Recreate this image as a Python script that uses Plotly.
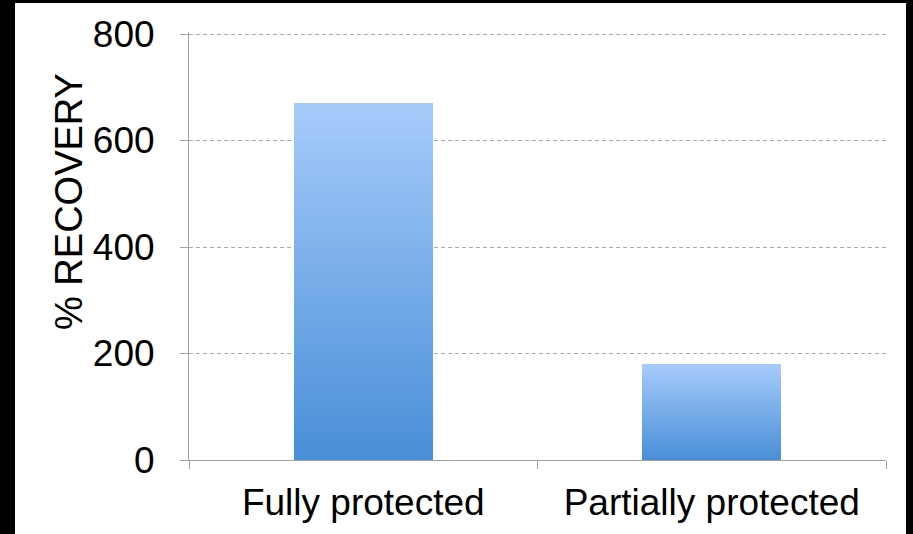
import plotly.graph_objects as go

categories = ["Fully protected", "Partially protected"]
values = [670, 180]
y_ticks = [0, 200, 400, 600, 800]
y_title = "% RECOVERY"

TOP = (166, 203, 250)
BOTTOM = (72, 142, 216)
N = 80

def mix(t):
    r = [round(TOP[i] + (BOTTOM[i] - TOP[i]) * t) for i in range(3)]
    return f"rgb({r[0]},{r[1]},{r[2]})"

xs, ys, cols = [], [], []
for cat, v in zip(categories, values):
    for k in range(N, 0, -1):
        frac = k / N
        xs.append(cat)
        ys.append(v * frac)
        cols.append(mix(1 - frac))

fig = go.Figure()
fig.add_trace(go.Bar(
    x=xs, y=ys, base=0, marker=dict(color=cols, line=dict(width=0)),
    width=0.40, hoverinfo="skip", showlegend=False,
))

W, H = 913, 534
L, R, T, B = 189, 27, 32, 74
pw, ph = W - L - R, H - T - B
ymax = 800 * ph / 426

def px2paper_x(px):
    return (px - L) / pw

def px2paper_y(py):
    return (H - B - py) / ph

fig.add_shape(type="rect", xref="paper", yref="paper",
              x0=px2paper_x(15), x1=px2paper_x(906),
              y0=px2paper_y(534), y1=px2paper_y(3),
              fillcolor="white", line=dict(width=0), layer="below")

font = "Liberation Sans, Arial, Helvetica, sans-serif"

fig.add_annotation(text=y_title, xref="paper", yref="paper",
                   x=px2paper_x(46), y=px2paper_y(202),
                   textangle=-90, showarrow=False,
                   font=dict(family=font, size=38, color="black"))

fig.update_layout(
    width=W, height=H,
    margin=dict(l=L, r=R, t=T, b=B, autoexpand=False),
    paper_bgcolor="black", plot_bgcolor="white",
    barmode="overlay",
    bargap=0,
    font=dict(family=font, color="black"),
    xaxis=dict(
        type="category", range=[-0.5, 1.5],
        showline=True, linecolor="#a0a0a0", linewidth=1,
        ticks="outside", tickson="boundaries", ticklen=8, tickcolor="#a0a0a0",
        tickfont=dict(family=font, size=37, color="black"),
        ticklabelstandoff=10,
        showgrid=False, zeroline=False,
    ),
    yaxis=dict(
        range=[0, ymax], tickvals=y_ticks,
        showline=True, linecolor="#a0a0a0", linewidth=1,
        ticks="outside", ticklen=8, tickcolor="#a0a0a0",
        tickfont=dict(family=font, size=37, color="black"),
        ticklabelstandoff=18,
        showgrid=True, gridcolor="#aaaaaa", gridwidth=1, griddash="4px,3px",
        zeroline=False,
    ),
)

fig.write_html("out.html")
